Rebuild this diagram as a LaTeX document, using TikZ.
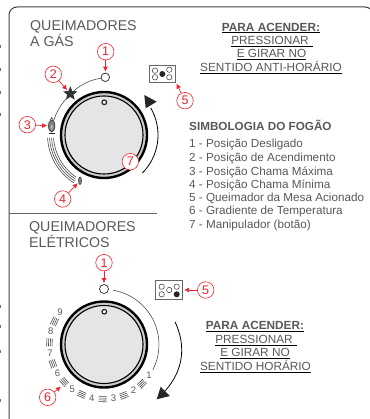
\documentclass[tikz,border=0pt]{standalone}
\usepackage{fontspec}
\setmainfont{Liberation Sans}
\usetikzlibrary{shapes.geometric,arrows.meta}
\definecolor{markred}{RGB}{237,36,46}
\definecolor{inkgray}{RGB}{88,88,90}
\definecolor{knobgray}{RGB}{228,229,231}
\tikzset{
  callout/.style={circle,draw=markred,text=markred,fill=white,line width=0.6pt,inner sep=0pt,minimum size=16.5pt,font=\fontsize{12.5}{12.5}\selectfont},
  redarrow/.style={draw=markred,line width=0.7pt,shorten >=1pt,-{Latex[length=5pt,width=5pt]}},
  ring/.style={circle,draw=black!85,inner sep=0pt},
  title/.style={anchor=west,text=inkgray,font=\fontsize{14.2}{16}\selectfont,align=left,inner sep=0pt},
  howto/.style={anchor=center,font=\fontsize{11.8}{13}\selectfont,inner sep=0pt},
  legend/.style={anchor=west,text=inkgray,font=\fontsize{11.7}{12}\selectfont,inner sep=0pt},
  scalenum/.style={text=inkgray,font=\fontsize{9.5}{9.5}\selectfont,inner sep=0pt},
  knobout/.style={circle,fill=black!20,draw=black,line width=2.4pt,minimum size=86pt,inner sep=0pt},
  knobin/.style={circle,fill=knobgray,draw=black,line width=1.1pt,minimum size=78pt,inner sep=0pt},
  burner/.style={circle,draw=black!80,line width=0.5pt,inner sep=0pt,minimum size=5.4pt},
  burneron/.style={circle,fill=black!85,inner sep=0pt,minimum size=6pt},
  hotplate/.style={draw=black!60,fill=white,line width=0.8pt,inner sep=0pt},
  flame/.style={ellipse,draw=black!85,fill=black!50,line width=0.5pt,inner sep=0pt},
  thinline/.style={black!75,line width=0.55pt}
}
\newcommand{\howtext}[1]{\underline{\textcolor{inkgray}{#1}}}
\begin{document}
\begin{tikzpicture}[x=1pt,y=-1pt]
  \useasboundingbox (0,0) rectangle (369,419);
  % cut-off marks on the left edge
  \foreach \y in {46.7,70,93,115,306.7,326.7,351.7,400}
    \draw[black!55,line width=1.6pt] (0,\y-1.5) -- (0,\y+1.5);
  % frame
  \draw[black!75,line width=1pt,rounded corners=8pt] (9,419) -- (9,7) -- (373,7) -- (373,40);
  \draw[black!60,line width=0.8pt] (9,213.3) -- (157.3,213.3);
  % titles
  \node[title] (gastitle) at (30,34) {QUEIMADORES\\A GÁS};
  \node[title] (eletitle) at (29,235) {QUEIMADORES\\ELÉTRICOS};
  % gas knob
  \node[knobout] (knobA) at (104,135) {};
  \node[knobin] (knobAin) at (104,135) {};
  \node[ring,line width=1.2pt,minimum size=4.6pt,fill=white] (dotA) at (104.3,102.3) {};
  \node[ring,line width=0.7pt,minimum size=8.5pt,fill=white] (off) at (105.3,77.3) {};
  \node[star,star points=5,star point ratio=2.3,fill=black!80,inner sep=0pt,minimum size=15pt] (lit) at (70.3,93.7) {};
  \node[flame,minimum width=6.5pt,minimum height=12pt] (maxflame) at (51.7,126) {};
  \draw[black!85,line width=0.5pt] (50,120.5) -- (51.7,117.5) -- (53.4,120.5);
  \node[ellipse,fill=black!25,inner sep=0pt,minimum width=2pt,minimum height=5pt] (maxflamein) at (51.7,127) {};
  \node[flame,minimum width=3pt,minimum height=7.5pt] (minflame) at (80,180.7) {};
  \draw[thinline] (off) to[bend right=14] (lit);
  \draw[thinline] (lit) to[bend right=10] (maxflame);
  \draw[black!85,line width=0.7pt] (48.5,133.3) -- (54.5,133.3);
  % flame gradient
  \foreach \r/\e in {50.5/124,52.5/123,54.5/122,56.5/122}
    \draw[thinline] ([shift={(177:\r)}]knobA.center) arc[start angle=177,end angle=\e,radius=\r];
  % gas turn arrow
  \coordinate (gastail) at (142.2,173.2);
  \draw[black,line width=0.8pt] (gastail) arc[start angle=45,end angle=-30,radius=54];
  \fill[black!85] (144.3,95) -- (156.7,101.7) -- (145.7,108.3) -- cycle;
  % gas hotplate
  \node[hotplate,minimum width=26.7pt,minimum height=17.3pt] (plateA) at (162.3,73.6) {};
  \node[burner] (a1) at (155,70.7) {};
  \node[burner] (a2) at (155,77.3) {};
  \node[burner] (a3) at (169.3,69.7) {};
  \node[burner] (a4) at (169.3,77.3) {};
  \node[burneron] (a5) at (162.3,74) {};
  % gas callouts
  \node[callout] (c1) at (105.7,51.7) {1};
  \node[callout] (c2) at (53.3,74.3) {2};
  \node[callout] (c3) at (27.3,124.7) {3};
  \node[callout] (c4) at (62.7,199) {4};
  \node[callout] (c5) at (185,100.7) {5};
  \node[callout] (c7) at (130.3,161.7) {7};
  \draw[redarrow] (c1) -- (off);
  \draw[redarrow] (c2) -- (lit);
  \draw[redarrow] (c3) -- (maxflame);
  \draw[redarrow] (c4) -- (minflame);
  \draw[redarrow] (c5) -- (plateA.south east);
  % lighting text, gas
  \node[howto] (pa1) at (271,28) {\howtext{\textbf{PARA ACENDER:}}};
  \node[howto] (pa2) at (272,41.7) {\howtext{PRESSIONAR\,\,}};
  \node[howto] (pa3) at (271.5,54.5) {\howtext{E GIRAR NO}};
  \node[howto] (pa4) at (271,67.7) {\howtext{SENTIDO ANTI-HORÁRIO}};
  % legend
  \node[legend,font=\bfseries\fontsize{11.7}{12}\selectfont] (symb) at (189,125) {SIMBOLOGIA DO FOGÃO};
  \node[legend] (l1) at (189,145) {1 - Posição Desligado};
  \node[legend] (l2) at (189,158.3) {2 - Posição de Acendimento};
  \node[legend] (l3) at (189,172) {3 - Posição Chama Máxima};
  \node[legend] (l4) at (189,185) {4 - Posição Chama Mínima};
  \node[legend] (l5) at (189,198.3) {5 - Queimador da Mesa Acionado};
  \node[legend] (l6) at (189,211.7) {6 - Gradiente de Temperatura};
  \node[legend] (l7) at (189,225) {7 - Manipulador (botão)};
  % electric knob
  \node[knobout] (knobB) at (104,344.5) {};
  \node[knobin] (knobBin) at (104,344.5) {};
  \node[ring,line width=1.2pt,minimum size=4.6pt,fill=white] (dotB) at (104.3,311.7) {};
  \node[ring,line width=0.7pt,minimum size=9pt,fill=white] (offB) at (104,289) {};
  \draw[thinline] ([shift={(-80.3:55)}]knobB.center) arc[start angle=-80.3,end angle=27.6,radius=55];
  % temperature scale
  \foreach \n in {1,...,9}
    \node[scalenum] (t\n) at ([shift={({34.7+22.7*(\n-1)}:54.7)}]knobB.center) {\n};
  \foreach \k in {0,...,7}
    \foreach \r in {52,53.8,55.6,57.4}
      \draw[black!70,line width=0.6pt] ([shift={({46+22.7*\k-4.2}:\r)}]knobB.center) -- ([shift={({46+22.7*\k+4.2}:\r)}]knobB.center);
  % electric turn arrow
  \coordinate (eletail) at (175,321.7);
  \coordinate (elehead) at (165,391);
  \draw[black,line width=0.8pt] (eletail) .. controls (186,345) and (184,370) .. (elehead);
  \fill[black!85] (156.7,399.3) -- (160.7,386.7) -- (170,396) -- cycle;
  % electric hotplate
  \node[hotplate,minimum width=27.7pt,minimum height=18.6pt] (plateB) at (168.8,290) {};
  \node[burner] (b1) at (161.7,286.7) {};
  \node[burner] (b2) at (161.7,294.3) {};
  \node[burner] (b3) at (169.3,290) {};
  \node[burner] (b4) at (176.7,286.7) {};
  \node[burneron] (b5) at (176.7,294.3) {};
  % electric callouts
  \coordinate (gradtip) at (61.7,386);
  \node[callout] (c1b) at (104,262.7) {1};
  \node[callout] (c5b) at (205.7,290) {5};
  \node[callout] (c6) at (47.7,397.3) {6};
  \draw[redarrow] (c1b) -- (offB);
  \draw[redarrow] (c5b) -- (plateB);
  \draw[redarrow] (c6) -- (gradtip);
  % lighting text, electric
  \node[howto] (pb1) at (255,326.7) {\howtext{\textbf{PARA ACENDER:}}};
  \node[howto] (pb2) at (256,340.7) {\howtext{PRESSIONAR\,\,}};
  \node[howto] (pb3) at (255,353.3) {\howtext{E GIRAR NO}};
  \node[howto] (pb4) at (255.5,366.7) {\howtext{SENTIDO HORÁRIO}};
\end{tikzpicture}
\end{document}
